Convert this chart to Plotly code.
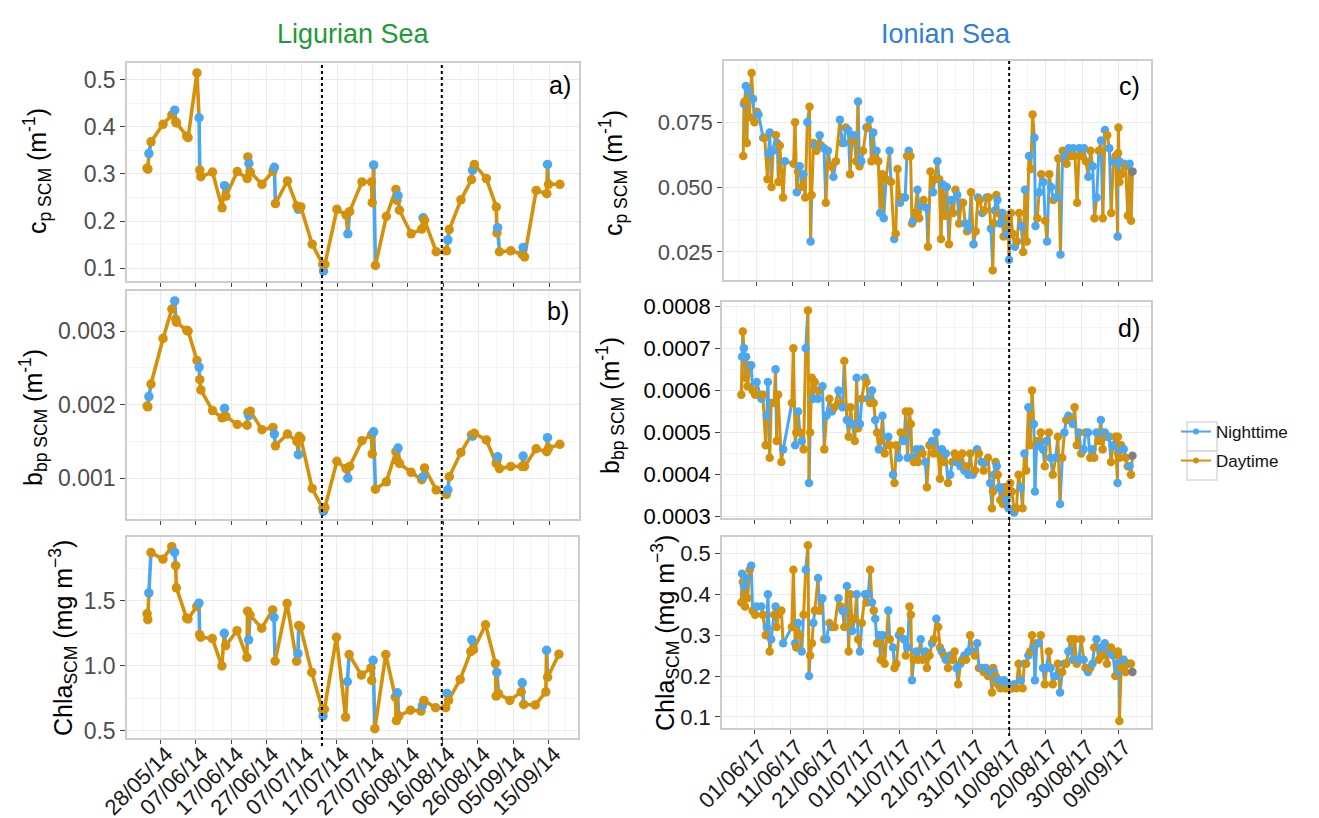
import pandas as pd
import plotly.graph_objects as go

W, H = 1319, 818
NIGHT = "#4BA7EF"
DAY = "#D4910B"
NA_COL = "#7F7F7F"
COLORS = {"N": NIGHT, "D": DAY, "X": NA_COL}
FONT = "Liberation Sans, Arial, Helvetica, sans-serif"

# ---------------- Ligurian Sea (2014) ----------------
lig_base = "2014-05-28"
lig_day = [-3.8, -3.6, -3.3, -2.7, 0.7, 3.2, 4.0, 4.3, 4.5, 7.4,
           7.8, 10.3, 10.9, 11.1, 11.4, 14.7, 17.4, 18.1, 18.5, 21.7,
           24.5, 24.7, 25.0, 25.4, 28.7, 31.8, 32.2, 32.5, 35.9, 38.6,
           39.0, 39.2, 39.7, 42.9, 45.9, 46.1, 46.5, 49.9, 52.5, 53.0,
           53.5, 57.0, 59.7, 59.9, 60.3, 60.8, 63.9, 66.6, 66.9, 67.2,
           67.6, 70.9, 73.9, 74.3, 74.7, 78.0, 80.9, 81.3, 81.7, 85.0,
           88.0, 88.3, 88.8, 92.2, 95.0, 95.2, 95.4, 95.9, 99.1, 102.3,
           102.6, 103.0, 106.3, 109.3, 109.5, 109.8, 113.0]
lig_type = list("DDNDDDNDDD" "DDNDDDDNDD" "DDNDDDNDDD" "NDDDDNDDDN"
                "DDDDNDDDDN" "DDDNDDDNDD" "DNDDDDNDDD" "NDDDNDD")
lig_cp = [0.312, 0.310, 0.343, 0.368, 0.405, 0.425, 0.435, 0.410, 0.408, 0.380,
          0.377, 0.514, 0.419, 0.308, 0.294, 0.304, 0.228, 0.275, 0.253, 0.305,
          0.290, 0.336, 0.322, 0.304, 0.278, 0.306, 0.314, 0.237, 0.285, 0.232,
          0.225, 0.228, 0.230, 0.151, 0.108, 0.094, 0.108, 0.225, 0.213, 0.173,
          0.220, 0.283, 0.283, 0.239, 0.319, 0.106, 0.210, 0.267, 0.244, 0.254,
          0.223, 0.173, 0.183, 0.207, 0.202, 0.135, 0.137, 0.160, 0.182, 0.245,
          0.288, 0.308, 0.320, 0.290, 0.230, 0.175, 0.186, 0.135, 0.137, 0.130,
          0.144, 0.124, 0.265, 0.258, 0.320, 0.278, 0.278]
lig_bbp = [0.00198, 0.00197, 0.00211, 0.00228, 0.00290, 0.00330, 0.00341, 0.00316, 0.00312, 0.00301,
           0.00300, 0.00260, 0.00251, 0.00234, 0.00220, 0.00192, 0.00182, 0.00195, 0.00184, 0.00173,
           0.00172, 0.00189, 0.00185, 0.00191, 0.00166, 0.00169, 0.00160, 0.00144, 0.00160, 0.00150,
           0.00132, 0.00157, 0.00154, 0.00086, 0.00059, 0.00055, 0.00060, 0.00123, 0.00113, 0.00100,
           0.00116, 0.00151, 0.00159, 0.00133, 0.00163, 0.00085, 0.00095, 0.00136, 0.00125, 0.00141,
           0.00120, 0.00108, 0.00098, 0.00102, 0.00114, 0.00084, 0.00078, 0.00084, 0.00102, 0.00135,
           0.00159, 0.00157, 0.00161, 0.00152, 0.00120, 0.00124, 0.00129, 0.00113, 0.00116, 0.00116,
           0.00130, 0.00116, 0.00140, 0.00136, 0.00155, 0.00141, 0.00146]
lig_chl = [1.40, 1.355, 1.56, 1.87, 1.82, 1.916, 1.872, 1.77, 1.60, 1.367,
           1.36, 1.457, 1.482, 1.24, 1.22, 1.21, 1.00, 1.25, 1.156, 1.27,
           1.066, 1.42, 1.20, 1.39, 1.29, 1.43, 1.373, 1.036, 1.48, 1.036,
           1.094, 1.31, 1.30, 0.95, 0.666, 0.615, 0.666, 1.22, 0.607, 0.878,
           1.087, 0.929, 0.985, 0.888, 1.043, 0.518, 1.087, 0.76, 0.58, 0.793,
           0.615, 0.66, 0.653, 0.696, 0.735, 0.679, 0.679, 0.788, 0.735, 0.896,
           1.11, 1.20, 1.125, 1.316, 1.018, 0.768, 0.95, 0.786, 0.735, 0.80,
           0.870, 0.704, 0.70, 0.80, 1.12, 0.913, 1.09]
lig_vlines = ["2014-07-12 16:00", "2014-08-15 14:00"]
lig_range = ["2014-05-18 12:00", "2014-09-23 10:00"]

# ---------------- Ionian Sea (2017) ----------------
ion_base = "2017-06-01"
ion_day = [-3.6, -3.4, -3.2, -2.9, -2.6, -2.3, -1.9, -1.3, -0.9, -0.5,
           0.2, 0.6, 1.9, 2.3, 3.1, 3.4, 3.7, 4.2, 4.6, 5.4,
           5.8, 6.1, 6.5, 7.4, 7.9, 10.3, 10.7, 11.2, 11.5, 12.0,
           12.5, 13.0, 13.5, 14.1, 14.7, 15.0, 15.3, 15.8, 16.2, 16.6,
           17.5, 17.9, 18.7, 19.2, 19.8, 20.6, 21.3, 22.0, 23.1, 23.7,
           24.2, 24.7, 25.4, 25.9, 26.4, 26.9, 27.6, 28.1, 28.5, 29.0,
           29.5, 30.4, 30.8, 31.3, 31.8, 32.3, 32.8, 33.2, 33.7, 34.2,
           34.7, 35.2, 35.8, 36.8, 37.2, 38.1, 38.5, 39.0, 39.7, 40.2,
           41.1, 41.6, 42.1, 42.6, 43.0, 43.3, 43.8, 44.5, 45.0, 45.7,
           46.2, 47.0, 47.4, 48.1, 48.8, 49.3, 50.0, 50.5, 51.0, 51.5,
           52.1, 52.6, 53.2, 53.8, 54.4, 55.0, 55.5, 56.0, 56.6, 57.1,
           57.7, 58.2, 58.8, 59.3, 60.0, 60.6, 61.2, 61.7, 62.4, 63.0,
           63.6, 64.2, 64.8, 65.3, 65.6, 65.9, 66.3, 66.6, 66.9, 67.3,
           67.6, 68.0, 68.3, 68.6, 68.9, 69.2, 69.5, 69.8, 70.3, 70.8,
           71.4, 72.0, 72.6, 73.2, 73.7, 74.2, 74.7, 75.3, 75.8, 76.3,
           76.8, 77.1, 77.6, 78.1, 78.7, 79.3, 79.8, 80.3, 80.9, 81.4,
           82.0, 82.8, 83.4, 84.0, 84.6, 85.2, 85.7, 86.3, 86.9, 87.5,
           88.0, 88.6, 89.2, 89.8, 90.5, 91.0, 91.7, 92.3, 92.9, 93.4,
           94.0, 94.6, 95.2, 95.7, 96.3, 96.9, 97.5, 98.0, 98.6, 99.2,
           99.8, 99.9, 100.0, 100.2, 100.3, 100.8, 101.5, 102.0, 102.6, 103.1,
           103.5, 103.9]
ion_type = list("DNDNDNDDND" "DNNDDNNDND" "NDDDNDDNDN" "DNDNDNDDND"
                "NDNDNDNDND" "NDNDDNDNDN" "DNDNDNDNDN" "DNDNDNDDND"
                "NDNDDNDNDN" "DNDDNDNDDN" "DNDNDDNDND" "NDNDNDNDND"
                "NDNDDNDNDN" "DNDNDNDNDD" "NDDNDNDNDD" "NNDNDNDNDN"
                "DNDNDNDNDN" "DDNDNDNDND" "NDNDNDNDND" "NDDNDDNDDN" "DX")
ion_cp = [0.062, 0.082, 0.083, 0.089, 0.067, 0.087, 0.077, 0.094, 0.084, 0.075,
          0.079, 0.078, 0.069, 0.069, 0.053, 0.063, 0.071, 0.050, 0.064, 0.070,
          0.067, 0.052, 0.066, 0.046, 0.060, 0.059, 0.075, 0.048, 0.056, 0.058,
          0.050, 0.055, 0.046, 0.075, 0.081, 0.029, 0.047, 0.067, 0.066, 0.064,
          0.070, 0.066, 0.065, 0.044, 0.064, 0.058, 0.054, 0.060, 0.076, 0.067,
          0.067, 0.073, 0.072, 0.055, 0.068, 0.070, 0.060, 0.083, 0.058, 0.060,
          0.064, 0.073, 0.073, 0.076, 0.060, 0.071, 0.062, 0.064, 0.060, 0.040,
          0.055, 0.038, 0.053, 0.064, 0.052, 0.030, 0.032, 0.057, 0.044, 0.046,
          0.046, 0.062, 0.064, 0.062, 0.036, 0.037, 0.040, 0.049, 0.038, 0.043,
          0.045, 0.042, 0.027, 0.056, 0.048, 0.053, 0.060, 0.053, 0.030, 0.051,
          0.039, 0.050, 0.028, 0.045, 0.040, 0.049, 0.047, 0.036, 0.044, 0.044,
          0.036, 0.033, 0.034, 0.048, 0.028, 0.033, 0.046, 0.045, 0.040, 0.041,
          0.046, 0.046, 0.034, 0.018, 0.036, 0.041, 0.047, 0.045, 0.040, 0.036,
          0.040, 0.040, 0.031, 0.036, 0.034, 0.032, 0.038, 0.022, 0.040, 0.032,
          0.027, 0.029, 0.040, 0.035, 0.025, 0.049, 0.029, 0.062, 0.057, 0.078,
          0.069, 0.035, 0.038, 0.048, 0.055, 0.052, 0.037, 0.029, 0.055, 0.050,
          0.045, 0.046, 0.061, 0.024, 0.064, 0.062, 0.059, 0.065, 0.062, 0.065,
          0.062, 0.044, 0.065, 0.062, 0.065, 0.060, 0.054, 0.064, 0.058, 0.038,
          0.046, 0.064, 0.068, 0.038, 0.072, 0.070, 0.065, 0.040, 0.060, 0.062,
          0.031, 0.063, 0.073, 0.060, 0.052, 0.055, 0.059, 0.058, 0.039, 0.059,
          0.037, 0.056]
ion_bbp = [0.00059, 0.00068, 0.00074, 0.00070, 0.00063, 0.00068, 0.00061, 0.00066, 0.00066, 0.00060,
           0.00059, 0.00062, 0.00058, 0.00059, 0.00047, 0.00054, 0.00062, 0.00044, 0.00057, 0.00057,
           0.00065, 0.00048, 0.00059, 0.00043, 0.00046, 0.00057, 0.00070, 0.00047, 0.00050, 0.00055,
           0.00050, 0.00048, 0.00046, 0.00070, 0.00079, 0.00038, 0.00050, 0.00063, 0.00058, 0.00062,
           0.00058, 0.00060, 0.00061, 0.00046, 0.00054, 0.00058, 0.00055, 0.00056, 0.00060, 0.00057,
           0.00056, 0.00067, 0.00053, 0.00049, 0.00056, 0.00052, 0.00048, 0.00063, 0.00051, 0.00052,
           0.00058, 0.00063, 0.00062, 0.00058, 0.00057, 0.00060, 0.00057, 0.00053, 0.00050, 0.00046,
           0.00048, 0.00054, 0.00045, 0.00049, 0.00047, 0.00040, 0.00038, 0.00047, 0.00044, 0.00050,
           0.00048, 0.00055, 0.00044, 0.00055, 0.00052, 0.00044, 0.00043, 0.00046, 0.00043, 0.00046,
           0.00045, 0.00043, 0.00037, 0.00047, 0.00048, 0.00045, 0.00050, 0.00045, 0.00039, 0.00046,
           0.00043, 0.00045, 0.00038, 0.00040, 0.00043, 0.00045, 0.00043, 0.00044, 0.00042, 0.00045,
           0.00041, 0.00042, 0.00040, 0.00045, 0.00040, 0.00041, 0.00046, 0.00045, 0.00043, 0.00041,
           0.00043, 0.00044, 0.00038, 0.00032, 0.00036, 0.00040, 0.00043, 0.00042, 0.00040, 0.00037,
           0.00034, 0.00036, 0.00033, 0.00037, 0.00035, 0.00034, 0.00037, 0.00032, 0.00038, 0.00036,
           0.00031, 0.00032, 0.00040, 0.00037, 0.00032, 0.00045, 0.00041, 0.00056, 0.00047, 0.00060,
           0.00052, 0.00036, 0.00048, 0.00047, 0.00050, 0.00046, 0.00042, 0.00048, 0.00050, 0.00044,
           0.00040, 0.00044, 0.00049, 0.00033, 0.00044, 0.00050, 0.00053, 0.00054, 0.00053, 0.00052,
           0.00056, 0.00047, 0.00050, 0.00045, 0.00046, 0.00050, 0.00050, 0.00044, 0.00046, 0.00044,
           0.00050, 0.00048, 0.00053, 0.00046, 0.00050, 0.00049, 0.00049, 0.00043, 0.00047, 0.00049,
           0.00038, 0.00049, 0.00045, 0.00046, 0.00044, 0.00047, 0.00046, 0.00044, 0.00042, 0.00042,
           0.00040, 0.000445]
ion_chl = [0.38, 0.45, 0.43, 0.42, 0.37, 0.44, 0.39, 0.46, 0.47, 0.36,
           0.35, 0.37, 0.37, 0.35, 0.30, 0.32, 0.40, 0.26, 0.29, 0.35,
           0.37, 0.32, 0.35, 0.36, 0.28, 0.32, 0.46, 0.28, 0.27, 0.33,
           0.30, 0.26, 0.35, 0.46, 0.52, 0.20, 0.25, 0.28, 0.33, 0.36,
           0.44, 0.36, 0.39, 0.29, 0.29, 0.33, 0.32, 0.32, 0.39, 0.37,
           0.36, 0.32, 0.42, 0.26, 0.40, 0.31, 0.34, 0.40, 0.29, 0.26,
           0.33, 0.40, 0.38, 0.40, 0.46, 0.38, 0.36, 0.34, 0.28, 0.30,
           0.24, 0.30, 0.23, 0.36, 0.29, 0.27, 0.22, 0.23, 0.30, 0.31,
           0.29, 0.25, 0.27, 0.37, 0.35, 0.19, 0.24, 0.26, 0.24, 0.29,
           0.24, 0.26, 0.22, 0.25, 0.28, 0.29, 0.34, 0.32, 0.27, 0.26,
           0.25, 0.24, 0.22, 0.25, 0.24, 0.26, 0.22, 0.18, 0.23, 0.24,
           0.25, 0.24, 0.26, 0.30, 0.26, 0.25, 0.28, 0.22, 0.22, 0.21,
           0.22, 0.20, 0.21, 0.16, 0.22, 0.21, 0.20, 0.19, 0.18, 0.19,
           0.17, 0.18, 0.18, 0.19, 0.17, 0.18, 0.17, 0.18, 0.17, 0.17,
           0.18, 0.17, 0.23, 0.19, 0.17, 0.23, 0.23, 0.25, 0.26, 0.30,
           0.27, 0.19, 0.28, 0.28, 0.30, 0.22, 0.18, 0.22, 0.26, 0.22,
           0.18, 0.20, 0.23, 0.16, 0.21, 0.23, 0.23, 0.26, 0.29, 0.24,
           0.29, 0.23, 0.24, 0.29, 0.24, 0.22, 0.21, 0.22, 0.23, 0.27,
           0.29, 0.24, 0.27, 0.25, 0.28, 0.23, 0.26, 0.27, 0.25, 0.20,
           0.23, 0.26, 0.25, 0.21, 0.09, 0.22, 0.24, 0.21, 0.23, 0.23,
           0.23, 0.21]
ion_vlines = ["2017-08-09 20:00"]
ion_range = ["2017-05-23 02:00", "2017-09-18 00:00"]

legend_names = {"N": "Nighttime", "D": "Daytime"}

fig = go.Figure()


def px_x(px):
    return px / W


def px_y(py):
    return 1 - py / H


def add_panel(base, days, types, values, xa, ya, lw, ms):
    t0 = pd.Timestamp(base)
    dates = [(t0 + pd.Timedelta(days=d)).strftime("%Y-%m-%d %H:%M:%S") for d in days]
    # path segments coloured by their starting point (ggplot geom_path style)
    for t in ("N", "D"):
        xs, ys = [], []
        for i in range(len(dates) - 1):
            if types[i] == t:
                xs += [dates[i], dates[i + 1], None]
                ys += [values[i], values[i + 1], None]
        fig.add_trace(go.Scatter(x=xs, y=ys, mode="lines",
                                 line=dict(color=COLORS[t], width=lw),
                                 xaxis=xa, yaxis=ya, showlegend=False,
                                 hoverinfo="skip", connectgaps=False))
    fig.add_trace(go.Scatter(x=dates, y=values, mode="markers",
                             marker=dict(color=[COLORS[t] for t in types], size=ms,
                                         line=dict(width=0)),
                             xaxis=xa, yaxis=ya, showlegend=False))


add_panel(lig_base, lig_day, lig_type, lig_cp, "x", "y", 3.6, 9.5)
add_panel(lig_base, lig_day, lig_type, lig_bbp, "x2", "y2", 3.6, 9.5)
add_panel(lig_base, lig_day, lig_type, lig_chl, "x3", "y3", 3.6, 9.5)
add_panel(ion_base, ion_day, ion_type, ion_cp, "x4", "y4", 3.0, 8.5)
add_panel(ion_base, ion_day, ion_type, ion_bbp, "x5", "y5", 3.0, 8.5)
add_panel(ion_base, ion_day, ion_type, ion_chl, "x6", "y6", 3.0, 8.5)

for t, lg in (("N", "legend"), ("D", "legend2")):
    fig.add_trace(go.Scatter(x=[None], y=[None], mode="lines+markers", name=legend_names[t],
                             line=dict(color=COLORS[t], width=2),
                             marker=dict(color=COLORS[t], size=6), showlegend=True,
                             legend=lg))

GRID = "#EBEBEB"
MINOR = "#F5F5F5"
BORDER = "#CDCDCD"
DAY_MS = 86400000


def xcfg(x0, x1, rng, tick0, anchor, labels, standoff):
    return dict(domain=[px_x(x0), px_x(x1)], range=rng, type="date", anchor=anchor,
                automargin=False,
                tickmode="linear", tick0=tick0, dtick=10 * DAY_MS, tickformat="%d/%m/%y",
                tickangle=-45, showticklabels=labels, ticks="outside", ticklen=4,
                tickcolor="#444", tickwidth=1.2, ticklabelstandoff=standoff, ticklabelshift=6,
                tickfont=dict(size=22, color="#1A1A1A", family=FONT),
                showgrid=True, gridcolor=GRID, gridwidth=1.2,
                minor=dict(tickmode="linear", tick0=tick0, dtick=5 * DAY_MS,
                           showgrid=True, gridcolor=MINOR, gridwidth=0.7),
                showline=True, mirror=True, linecolor=BORDER, linewidth=1.5, zeroline=False)


def ycfg(y0, y1, rng, dtick, fmt, anchor, color, size):
    return dict(domain=[px_y(y1), px_y(y0)], range=rng, anchor=anchor,
                automargin=False,
                tickmode="linear", tick0=0, dtick=dtick, tickformat=fmt,
                ticks="outside", ticklen=5, tickcolor="#444", tickwidth=1.2,
                tickfont=dict(size=size, color=color, family=FONT),
                showgrid=True, gridcolor=GRID, gridwidth=1.2,
                minor=dict(tickmode="linear", tick0=0, dtick=dtick / 2,
                           showgrid=True, gridcolor=MINOR, gridwidth=0.7),
                showline=True, mirror=True, linecolor=BORDER, linewidth=1.5, zeroline=False)


legend_common = dict(xanchor="left", yanchor="middle",
                     font=dict(size=17, family=FONT, color="#111"),
                     bgcolor="rgba(0,0,0,0)", itemwidth=30)

layout = dict(
    width=W, height=H, margin=dict(l=0, r=0, t=0, b=0, autoexpand=False),
    paper_bgcolor="white", plot_bgcolor="white",
    font=dict(family=FONT, color="#000"),
    xaxis=xcfg(119, 571, lig_range, lig_base, "y", False, -8),
    xaxis2=xcfg(119, 571, lig_range, lig_base, "y2", False, -8),
    xaxis3=xcfg(119, 570, lig_range, lig_base, "y3", True, -11),
    xaxis4=xcfg(716, 1143, ion_range, ion_base, "y4", False, -8),
    xaxis5=xcfg(714, 1143, ion_range, ion_base, "y5", False, -8),
    xaxis6=xcfg(714, 1143, ion_range, ion_base, "y6", True, -8),
    yaxis=ycfg(55, 273, [0.073, 0.535], 0.1, ".1f", "x", "#4D4D4D", 23),
    yaxis2=ycfg(283, 511, [0.000445, 0.003545], 0.001, ".3f", "x2", "#4D4D4D", 23),
    yaxis3=ycfg(529, 730, [0.446, 1.99], 0.5, ".1f", "x3", "#4D4D4D", 23),
    yaxis4=ycfg(53, 272, [0.0142, 0.0986], 0.025, ".3f", "x4", "#4D4D4D", 22),
    yaxis5=ycfg(294, 510, [0.000297, 0.000810], 0.0001, ".4f", "x5", "#000", 22),
    yaxis6=ycfg(529, 720, [0.073, 0.54], 0.1, ".1f", "x6", "#1A1A1A", 22),
    legend=dict(x=px_x(1168), y=px_y(424), **legend_common),
    legend2=dict(x=px_x(1168), y=px_y(453), **legend_common),
    showlegend=True,
)
fig.update_layout(**layout)

shapes = []
for d in lig_vlines:
    shapes.append(dict(type="line", xref="x", yref="paper", x0=d, x1=d,
                       y0=px_y(738), y1=px_y(55), layer="above",
                       line=dict(color="black", width=2, dash="dot")))
for d in ion_vlines:
    shapes.append(dict(type="line", xref="x4", yref="paper", x0=d, x1=d,
                       y0=px_y(728), y1=px_y(53), layer="above",
                       line=dict(color="black", width=2, dash="dot")))
# legend key boxes
for top in (414, 443):
    shapes.append(dict(type="rect", xref="paper", yref="paper",
                       x0=px_x(1179), x1=px_x(1209), y0=px_y(top + 29), y1=px_y(top),
                       line=dict(color="#DADADA", width=1.5), layer="below"))
fig.update_layout(shapes=shapes)

ann = []
ann.append(dict(text="Ligurian Sea", x=px_x(345), y=px_y(26), xref="paper", yref="paper",
                showarrow=False, font=dict(size=27, color="#1E9A3A", family=FONT),
                xanchor="center", yanchor="middle"))
ann.append(dict(text="Ionian Sea", x=px_x(938), y=px_y(26), xref="paper", yref="paper",
                showarrow=False, font=dict(size=27, color="#2F7FD6", family=FONT),
                xanchor="center", yanchor="middle"))
for lab, x, y in [("a)", 565, 77), ("b)", 563, 303), ("c)", 1134, 78), ("d)", 1134, 320)]:
    ann.append(dict(text=lab, x=px_x(x), y=px_y(y), xref="paper", yref="paper",
                    showarrow=False, font=dict(size=25, color="#000", family=FONT),
                    xanchor="right", yanchor="middle"))
ytitles = [
    ("c<sub>p SCM</sub> (m<sup>-1</sup>)", 29, 163),
    ("b<sub>bp SCM</sub> (m<sup>-1</sup>)", 25, 410),
    ("Chla<sub>SCM</sub> (mg m<sup>\u22123</sup>)", 55, 630),
    ("c<sub>p SCM</sub> (m<sup>-1</sup>)", 605, 165),
    ("b<sub>bp SCM</sub> (m<sup>-1</sup>)", 602, 398),
    ("Chla<sub>SCM</sub> (mg m<sup>\u22123</sup>)", 657, 625),
]
for txt, x, y in ytitles:
    ann.append(dict(text=txt, x=px_x(x), y=px_y(y), xref="paper", yref="paper",
                    showarrow=False, textangle=-90, font=dict(size=25, color="#000", family=FONT),
                    xanchor="center", yanchor="middle"))
fig.update_layout(annotations=ann)

fig.write_html("out.html")
